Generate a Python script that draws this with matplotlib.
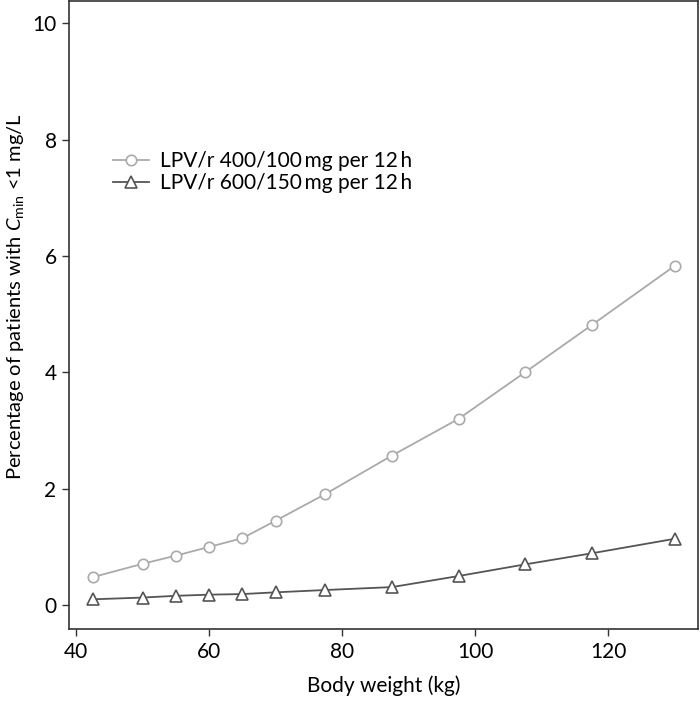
import numpy as np
import matplotlib.pyplot as plt

plt.rcParams['font.family'] = ['Lato', 'DejaVu Sans']
plt.rcParams['mathtext.fontset'] = 'custom'
plt.rcParams['mathtext.rm'] = 'Lato'
plt.rcParams['mathtext.it'] = 'Lato:italic'

# body weight (kg)
weight = [42.5, 50, 55, 60, 65, 70, 77.5, 87.5, 97.5, 107.5, 117.5, 130]
# % patients with Cmin < 1 mg/L
pct_400 = [0.48, 0.71, 0.85, 1.0, 1.15, 1.45, 1.91, 2.57, 3.2, 4.0, 4.81, 5.83]
pct_600 = [0.10, 0.13, 0.16, 0.18, 0.19, 0.22, 0.26, 0.31, 0.50, 0.70, 0.89, 1.14]

labels = ['LPV/r 400/100\u2009mg per 12\u2009h', 'LPV/r 600/150\u2009mg per 12\u2009h']

fig = plt.figure(figsize=(7, 7.01), dpi=100)
ax = fig.add_axes([69/700, 72/701, 629/700, 628/701])

ax.plot(weight, pct_400, color='#aaaaaa', lw=1.3, marker='o', ms=7.5,
        mfc='white', mec='#aaaaaa', mew=1.2, label=labels[0])
ax.plot(weight, pct_600, color='#555555', lw=1.3, marker='^', ms=8.5,
        mfc='white', mec='#555555', mew=1.2, label=labels[1])

ax.set_xlim(38.95, 133.5)
ax.set_ylim(-0.41, 10.38)
ax.set_xticks([40, 60, 80, 100, 120])
ax.set_yticks([0, 2, 4, 6, 8, 10])
ax.tick_params(labelsize=15, length=5, width=1, color='#333333', pad=4)

for s in ax.spines.values():
    s.set_linewidth(1.2)
    s.set_color('#333333')

ax.set_xlabel('Body weight (kg)', fontsize=15, labelpad=10)
ax.set_ylabel(r'Percentage of patients with $\mathit{C}_{\mathrm{min}}$ <1 mg/L', fontsize=14.5)
ax.yaxis.set_label_coords(-0.068, 0.53)

ax.legend(loc='center left', bbox_to_anchor=(105/700, 0.754), bbox_transform=fig.transFigure,
          borderaxespad=0, frameon=False, fontsize=15,
          handlelength=1.7, handletextpad=0.55, labelspacing=0.1)

fig.savefig('out.png', dpi=100)
